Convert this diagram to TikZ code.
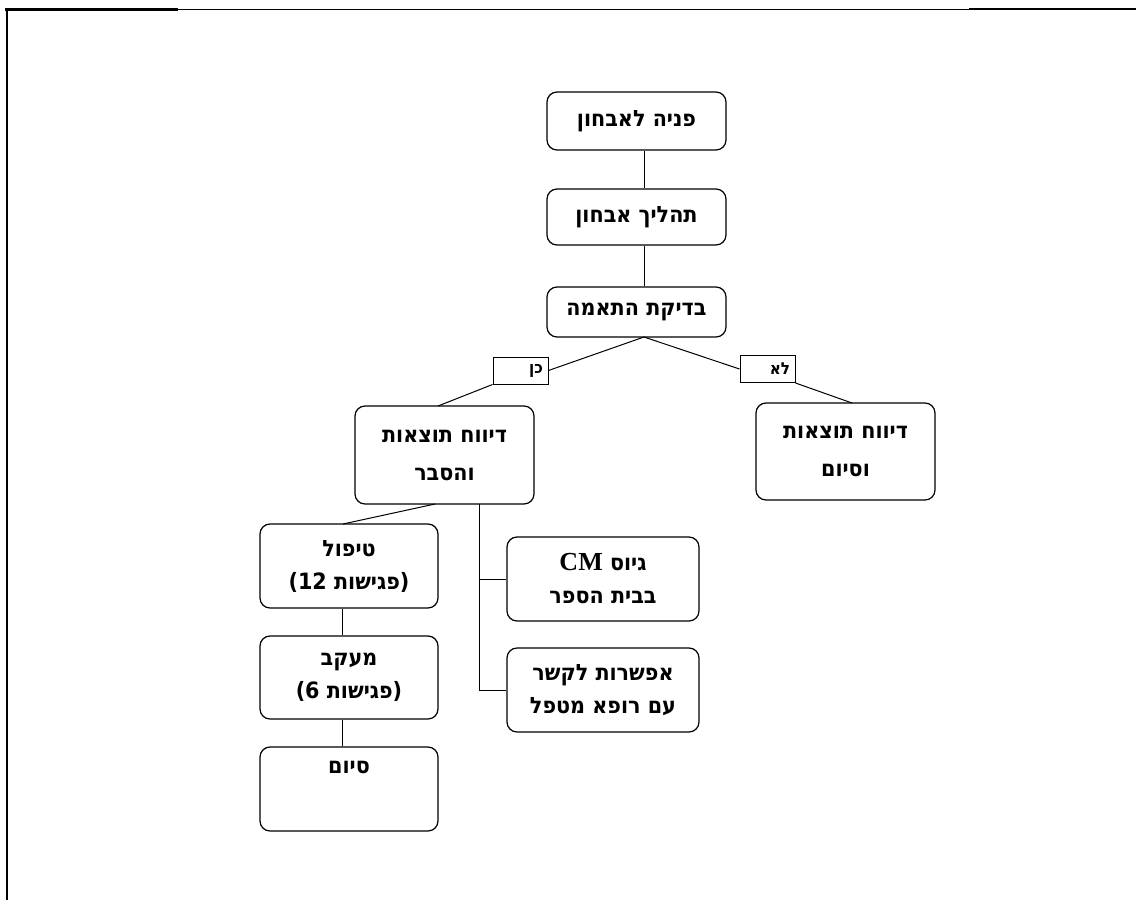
\documentclass[tikz,border=0pt]{standalone}
\usepackage{fontspec}
\TeXXeTstate=1
\newfontfamily\hebfont[Script=Hebrew,FakeStretch=0.92]{DejaVu Sans Bold}
\newfontfamily\latsans[FakeStretch=0.92]{DejaVu Sans Bold}
\newfontfamily\latserif{Liberation Serif Bold}
\newcommand\HebLine[1]{\beginR #1\endR}
\begin{document}
\begin{tikzpicture}[x=1pt,y=-1pt,
  box/.style={draw, line width=1.2pt, rounded corners=10pt, align=center,
    font=\hebfont\fontsize{22.5}{33}\selectfont, inner sep=0pt},
  lab/.style={draw, line width=1pt, align=right, text width=45pt, inner xsep=5pt,
    minimum height=27pt, font=\hebfont\fontsize{16.5}{18}\selectfont},
  conn/.style={line width=1pt}]
\useasboundingbox (0,0) rectangle (1136,900);
% frame
\draw[line width=3pt] (5,9) -- (178,9);
\draw[line width=1pt] (178,9) -- (969,9);
\draw[line width=2.5pt] (969,9) -- (1136,9);
\draw[line width=2pt] (7,8) -- (7,900);
% boxes
\node[box, minimum width=179pt, minimum height=58pt] (b1) at (636.5,121) {\HebLine{פניה לאבחון}};
\node[box, minimum width=179pt, minimum height=56pt] (b2) at (636.5,217) {\HebLine{תהליך אבחון}};
\node[box, minimum width=179pt, minimum height=50pt] (b3) at (636.5,312) {\HebLine{בדיקת התאמה}};
\node[box, minimum width=179pt, minimum height=98pt, font=\hebfont\fontsize{22.5}{38}\selectfont] (b4) at (444.5,455) {\HebLine{דיווח תוצאות}\\\HebLine{והסבר}};
\node[box, minimum width=179pt, minimum height=97pt, font=\hebfont\fontsize{22.5}{38}\selectfont] (b5) at (845.5,451.5) {\HebLine{דיווח תוצאות}\\\HebLine{וסיום}};
\node[box, minimum width=178pt, minimum height=84pt] (b6) at (349,566) {\HebLine{טיפול}\\\hbox{\beginL\mbox{\latsans(12}\ \mbox{פגישות}\mbox{\latsans)}\endL}};
\node[box, minimum width=192pt, minimum height=84pt] (b7) at (603,579) {\hbox{\beginL\mbox{\latserif\fontsize{26}{33}\selectfont CM}\ \mbox{גיוס}\endL}\\\HebLine{בבית הספר}};
\node[box, minimum width=192pt, minimum height=84pt] (b8) at (603,690) {\HebLine{אפשרות לקשר}\\\HebLine{עם רופא מטפל}};
\node[box, minimum width=178pt, minimum height=83pt] (b9) at (349,677.5) {\HebLine{מעקב}\\\hbox{\beginL\mbox{\latsans(6}\ \mbox{פגישות}\mbox{\latsans)}\endL}};
\node[box, minimum width=178pt, minimum height=84pt] (b10) at (349,789) {\HebLine{סיום}\\\strut};
% labels
\node[lab] (yes) at (520.5,370.5) {\HebLine{כן}};
\node[lab] (no) at (767.5,369) {\HebLine{לא}};
% connectors
\coordinate (apex) at (644,337);
\draw[conn] (b1.south -| apex) -- (b2.north -| apex);
\draw[conn] (b2.south -| apex) -- (b3.north -| apex);
\draw[conn] (apex) -- (yes.east);
\draw[conn] (apex) -- (no.west);
\draw[conn] (yes.south west) -- (438,406);
\draw[conn] (no.south east) -- (852,403);
\coordinate (v4) at (479,504);
\draw[conn] (435,504) -- (343,524);
\draw[conn] (v4) -- (479,690) -- (b8.west);
\draw[conn] (479,579) -- (b7.west);
\draw[conn] (b6.south -| 342,0) -- (b9.north -| 342,0);
\draw[conn] (b9.south -| 342,0) -- (b10.north -| 342,0);
\end{tikzpicture}
\end{document}
